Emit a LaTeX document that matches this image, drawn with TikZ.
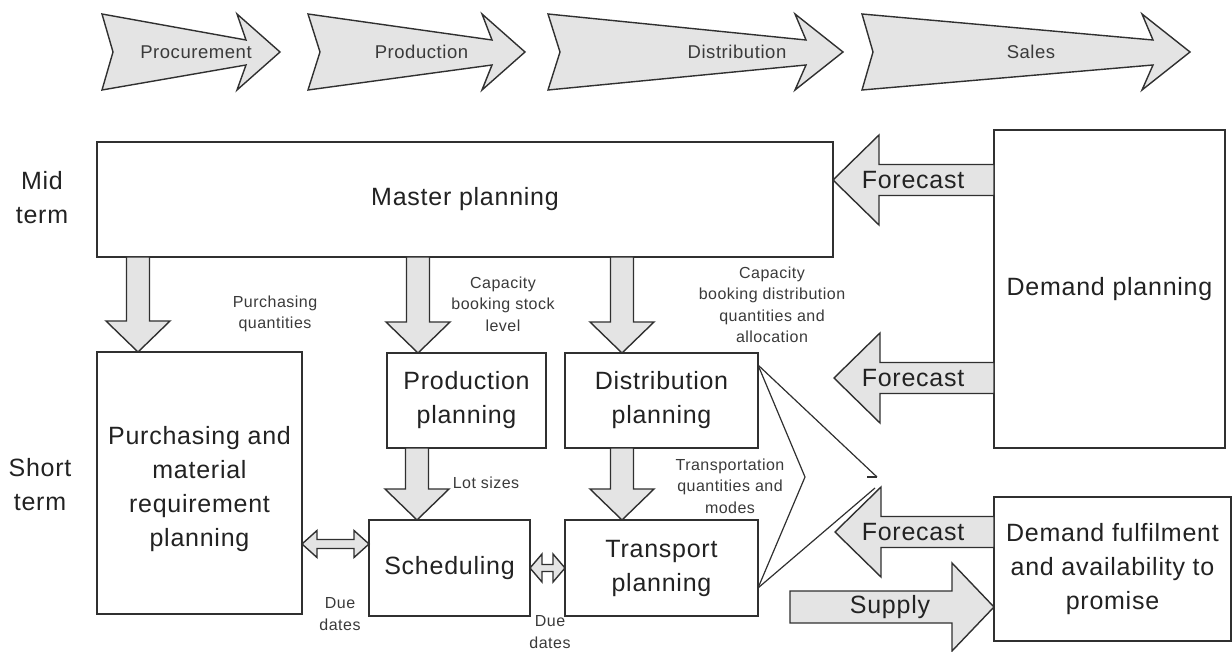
\documentclass[tikz,border=0pt]{standalone}
\usepackage{fontspec}
\setmainfont[LetterSpace=3]{Liberation Sans}
\usetikzlibrary{calc}
\definecolor{afill}{HTML}{E4E4E4}
\definecolor{ln}{HTML}{303030}
\definecolor{txt}{HTML}{222222}
\definecolor{stxt}{HTML}{3A3A3A}
\newcommand\dnarr[2]{\path[barrow] let \p1=(#1), \p2=(#2) in
  ({\x1-11.5pt},\y1) -- ({\x1-11.5pt},{\y2+31pt}) -- ({\x1-32pt},{\y2+31pt}) -- (\x1,\y2)
  -- ({\x1+32pt},{\y2+31pt}) -- ({\x1+11.5pt},{\y2+31pt}) -- ({\x1+11.5pt},\y1) -- cycle;}
\newcommand\lfarr[2]{\path[barrow] let \p1=(#1), \p2=(#2) in
  (\x1,{\y1+15.5pt}) -- ({\x2+46pt},{\y1+15.5pt}) -- ({\x2+46pt},{\y1+45pt}) -- (\x2,\y1)
  -- ({\x2+46pt},{\y1-45pt}) -- ({\x2+46pt},{\y1-15.5pt}) -- (\x1,{\y1-15.5pt}) -- cycle;}
\newcommand\rtarr[2]{\path[barrow] let \p1=(#1), \p2=(#2) in
  (\x1,{\y2+16pt}) -- ({\x2-42pt},{\y2+16pt}) -- ({\x2-42pt},{\y2+44pt}) -- (\x2,\y2)
  -- ({\x2-42pt},{\y2-44pt}) -- ({\x2-42pt},{\y2-16pt}) -- (\x1,{\y2-16pt}) -- cycle;}
% #1 left tip, #2 right tip, #3 head length, #4 head half height, #5 shaft half height
\newcommand\dbarr[5]{\path[barrow] let \p1=(#1), \p2=(#2) in
  (\x1,\y1) -- ({\x1+#3pt},{\y1+#4pt}) -- ({\x1+#3pt},{\y1+#5pt}) -- ({\x2-#3pt},{\y1+#5pt})
  -- ({\x2-#3pt},{\y1+#4pt}) -- (\x2,\y1) -- ({\x2-#3pt},{\y1-#4pt}) -- ({\x2-#3pt},{\y1-#5pt})
  -- ({\x1+#3pt},{\y1-#5pt}) -- ({\x1+#3pt},{\y1-#4pt}) -- cycle;}
\newcommand\chev[5]{\path[barrow] (#1,14) -- (#4,40) -- (#3,14) -- (#5,52) -- (#3,90) -- (#4,65) -- (#1,90) -- (#2,52) -- cycle;}
\begin{document}
\begin{tikzpicture}[x=1pt,y=-1pt,
  bigfont/.style={font=\fontsize{25}{34}\selectfont},
  box/.style={draw=ln, line width=1.4pt, fill=white, inner sep=0pt, outer sep=0pt, align=center, text=txt, bigfont},
  barrow/.style={draw=ln, line width=1.4pt, fill=afill, line join=miter},
  small/.style={text=stxt, align=center, font=\fontsize{16}{21.5}\selectfont, inner sep=0pt},
  chevlabel/.style={text=stxt, font=\fontsize{18.5}{22}\selectfont, inner sep=0pt},
  arrlabel/.style={text=txt, bigfont, inner sep=0pt},
  rowlabel/.style={text=txt, bigfont, align=center, inner sep=0pt},
  thin/.style={draw=ln, line width=1.2pt}]
\useasboundingbox (0,0) rectangle (1232,652);

% process chevrons
\chev{102}{113}{237}{246}{280}
\chev{308}{320}{482}{492}{525}
\chev{548}{560}{795}{806}{843}
\chev{862}{873}{1142}{1153}{1190}
\node[chevlabel] (c1) at (196,52) {Procurement};
\node[chevlabel] (c2) at (421.5,52) {Production};
\node[chevlabel] (c3) at (737,52) {Distribution};
\node[chevlabel] (c4) at (1031,52) {Sales};

% row labels
\node[rowlabel] (mid) at (42,198) {Mid\\term};
\node[rowlabel] (short) at (40,485) {Short\\term};

% boxes
\node[box, minimum width=736, minimum height=115] (mp) at (465,199.5) {Master planning};
\node[box, minimum width=231, minimum height=318] (dpl) at (1109.5,289) {Demand planning};
\node[box, minimum width=205, minimum height=262] (pur) at (199.5,483) {};
\node[rowlabel] (purtext) at ($(pur.center)+(0,6)$) {Purchasing and\\material\\requirement\\planning};
\node[box, minimum width=159, minimum height=95] (pp) at (466.5,400.5) {Production\\planning};
\node[box, minimum width=193, minimum height=95] (dp) at (661.5,400.5) {Distribution\\planning};
\node[box, minimum width=161, minimum height=96] (sc) at (449.5,568) {Scheduling};
\node[box, minimum width=193, minimum height=96] (tp) at (661.5,568) {Transport\\planning};
\node[box, minimum width=237, minimum height=144] (dfa) at (1112.5,569) {Demand fulfilment\\and availability to\\promise};

% down arrows
\dnarr{138,0 |- mp.south}{138,0 |- pur.north}
\dnarr{418,0 |- mp.south}{418,0 |- pp.north}
\dnarr{622,0 |- mp.south}{622,0 |- dp.north}
\dnarr{417,0 |- pp.south}{417,0 |- sc.north}
\dnarr{622,0 |- dp.south}{622,0 |- tp.north}

% forecast arrows
\coordinate (f2tip) at (834,378);
\coordinate (f3tip) at (835,532);
\lfarr{dpl.west |- 0,180}{mp.east |- 0,180}
\lfarr{dpl.west |- 0,378}{f2tip}
\lfarr{dfa.west |- 0,532}{f3tip}
\node[arrlabel] (fl1) at (913,180) {Forecast};
\node[arrlabel] (fl2) at (913,378) {Forecast};
\node[arrlabel] (fl3) at (913,532) {Forecast};

% supply arrow
\coordinate (suptail) at (790,607);
\rtarr{suptail}{dfa.west |- 0,607}
\node[arrlabel] (supl) at (890,607) {Supply};

% double arrows
\dbarr{pur.east |- 0,544}{sc.west |- 0,544}{15}{13.5}{4.5}
\dbarr{sc.east |- 0,568}{tp.west |- 0,568}{12}{14}{3.5}

% open arrow from distribution / transport planning
\coordinate (la) at (dp.east |- 0,365);
\coordinate (lb) at (tp.east |- 0,588);
\coordinate (lin) at (805,477);
\coordinate (lout) at (877,477);
\coordinate (lout2) at (875,488);
\coordinate (ltick) at (867,477);
\draw[thin] (la) -- (lin) -- (lb);
\draw[thin] (la) -- (lout);
\draw[thin] (lb) -- (lout2);
\draw[thin] (ltick) -- (lout);

% small labels
\node[small] (l1) at (275,314) {Purchasing\\quantities};
\node[small] (l2) at (503,304) {Capacity\\booking stock\\level};
\node[small] (l3) at (772,305) {Capacity\\booking distribution\\quantities and\\allocation};
\node[small] (l4) at (486,483) {Lot sizes};
\node[small] (l5) at (730,486) {Transportation\\quantities and\\modes};
\node[small] (l6) at (340,614) {Due\\dates};
\node[small] (l7) at (550,632) {Due\\dates};
\end{tikzpicture}
\end{document}
